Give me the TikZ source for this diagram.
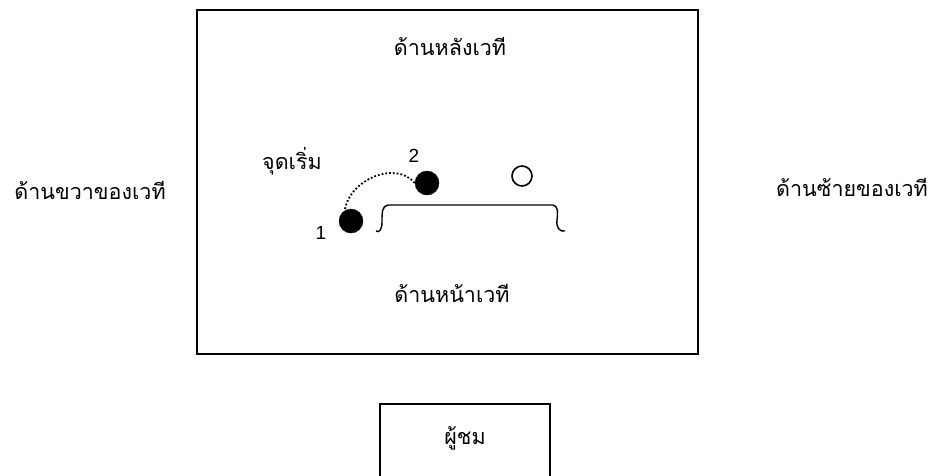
\documentclass[tikz,border=0pt]{standalone}
\usepackage{fontspec}
\setmainfont{Liberation Sans}
\newfontfamily\thaifont[Script=Thai]{Loma}
\begin{document}
\begin{tikzpicture}[x=1pt,y=-1pt,
  lbl/.style={font=\thaifont\fontsize{21.5}{24}\selectfont, inner sep=0pt},
  num/.style={font=\fontsize{19}{21}\selectfont, inner sep=0pt},
  actor/.style={circle, fill=black, draw=black, minimum size=24pt, inner sep=0pt},
  empty/.style={circle, draw=black, line width=1.6pt, minimum size=20pt, inner sep=0pt},
  frame/.style={draw=black, line width=1.2pt}]
\useasboundingbox (0,0) rectangle (949,475);
\clip (0,0) rectangle (949,475);
\draw[frame] (197,10) rectangle (698,354);
\draw[frame] (380,478) -- (380,404) -- (550,404) -- (550,478);
\node[lbl] (back) at (450,46) {ด้านหลังเวที};
\node[lbl] (front) at (452,293) {ด้านหน้าเวที};
\node[lbl] (right) at (90,190) {ด้านขวาของเวที};
\node[lbl] (left) at (852,187) {ด้านซ้ายของเวที};
\node[lbl] (aud) at (465,438) {ผู้ชม};
\node[lbl] (start) at (292,161) {จุดเริ่ม};
\node[actor] (p1) at (351,221) {};
\node[actor] (p2) at (427,183) {};
\node[empty] (p3) at (522,176) {};
\node[num] (n1) at (321,233) {1};
\node[num] (n2) at (414,156) {2};
\draw[dotted, line width=1.8pt] (345,209) .. controls (350,180) and (395,160) .. (p2.west);
\coordinate (bl) at (388,205);
\coordinate (br) at (553,205);
\draw[line width=1.4pt] (376,231) .. controls (379,233) and (382,230) .. (382,222) .. controls (382,212) and (382,206) .. (bl) -- (br) .. controls (558,206) and (558,212) .. (557,220) .. controls (556,228) and (560,232) .. (565,231);
\end{tikzpicture}
\end{document}
